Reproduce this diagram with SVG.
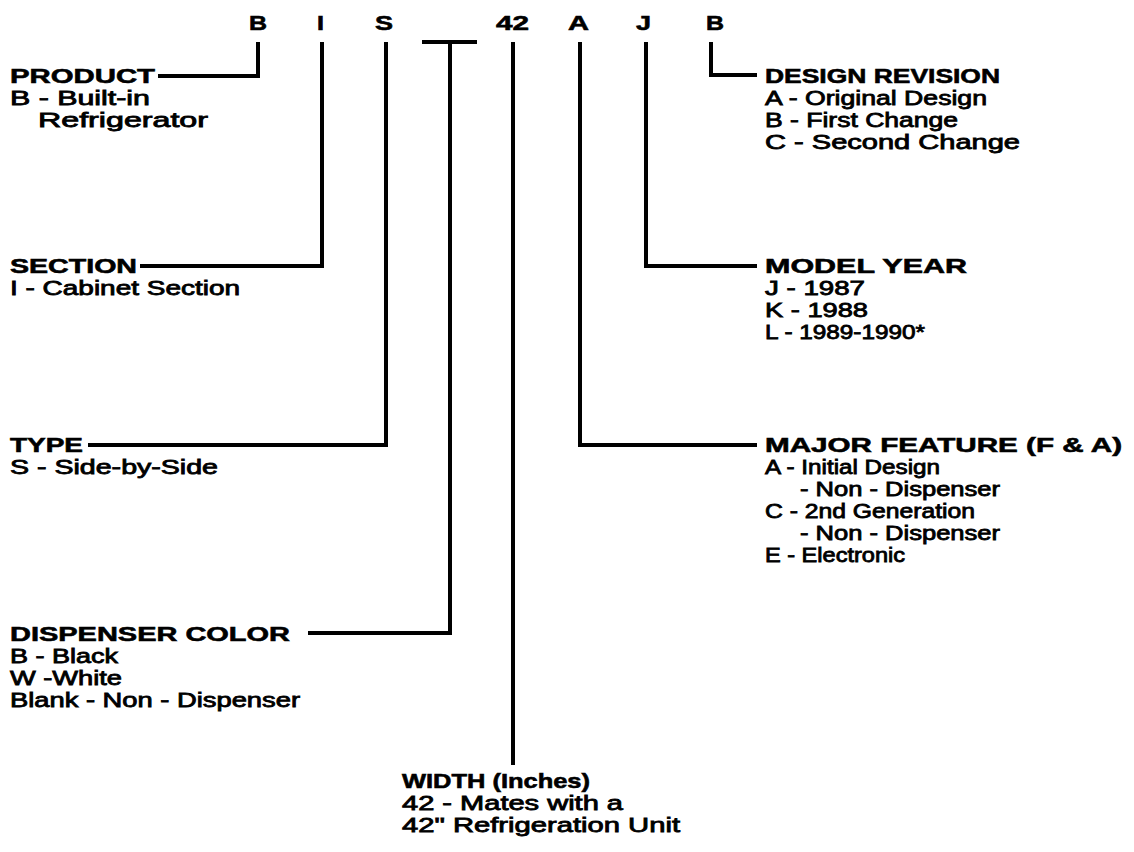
<svg xmlns="http://www.w3.org/2000/svg" width="1134" height="852" viewBox="0 0 1134 852">
<style>
.h{font-family:"Liberation Sans",Arial,sans-serif;font-weight:bold;font-size:21px;fill:#000;stroke:#000;stroke-width:0.6}
.b{font-family:"Liberation Sans",Arial,sans-serif;font-size:20px;fill:#000;stroke:#000;stroke-width:0.8}
.k{font-family:"Liberation Sans",Arial,sans-serif;font-weight:bold;font-size:21px;fill:#000;stroke:#000;stroke-width:0.6}
.c{fill:none;stroke:#000;stroke-width:4;stroke-linejoin:miter;stroke-linecap:butt}
</style>
<rect width="1134" height="852" fill="#fff"/>
<g id="code">
<text class="k" x="249" y="30" textLength="18" lengthAdjust="spacingAndGlyphs">B</text>
<text class="k" x="317" y="30" textLength="7" lengthAdjust="spacingAndGlyphs">I</text>
<text class="k" x="375" y="30" textLength="18" lengthAdjust="spacingAndGlyphs">S</text>
<text class="k" x="496" y="30" textLength="33" lengthAdjust="spacingAndGlyphs">42</text>
<text class="k" x="568" y="30" textLength="21" lengthAdjust="spacingAndGlyphs">A</text>
<text class="k" x="636" y="30" textLength="15" lengthAdjust="spacingAndGlyphs">J</text>
<text class="k" x="706" y="30" textLength="18" lengthAdjust="spacingAndGlyphs">B</text>
</g>
<g id="connectors">
<path class="c" d="M258,42 V76 H158"/>
<path class="c" d="M322,42 V266 H140"/>
<path class="c" d="M386,42 V445 H88"/>
<path class="c" d="M422,42 H477 M450,42 V633 H308"/>
<path class="c" d="M513,42 V765"/>
<path class="c" d="M580,42 V445 H757"/>
<path class="c" d="M646,42 V266 H757"/>
<path class="c" d="M711,42 V75 H757"/>
</g>
<g id="product">
<text class="h" x="10" y="83" textLength="145" lengthAdjust="spacingAndGlyphs">PRODUCT</text>
<text class="b" x="10" y="105" textLength="140" lengthAdjust="spacingAndGlyphs">B - Built-in</text>
<text class="b" x="38" y="127" textLength="170" lengthAdjust="spacingAndGlyphs">Refrigerator</text>
</g>
<g id="section">
<text class="h" x="10" y="273" textLength="127" lengthAdjust="spacingAndGlyphs">SECTION</text>
<text class="b" x="10" y="295" textLength="230" lengthAdjust="spacingAndGlyphs">I -  Cabinet Section</text>
</g>
<g id="type">
<text class="h" x="10" y="452" textLength="73" lengthAdjust="spacingAndGlyphs">TYPE</text>
<text class="b" x="10" y="474" textLength="208" lengthAdjust="spacingAndGlyphs">S - Side-by-Side</text>
</g>
<g id="dispenser">
<text class="h" x="10" y="641" textLength="280" lengthAdjust="spacingAndGlyphs">DISPENSER COLOR</text>
<text class="b" x="10" y="663" textLength="108" lengthAdjust="spacingAndGlyphs">B - Black</text>
<text class="b" x="10" y="685" textLength="112" lengthAdjust="spacingAndGlyphs">W -White</text>
<text class="b" x="10" y="707" textLength="290" lengthAdjust="spacingAndGlyphs">Blank - Non - Dispenser</text>
</g>
<g id="width">
<text class="h" x="402" y="788" textLength="188" lengthAdjust="spacingAndGlyphs">WIDTH (Inches)</text>
<text class="b" x="402" y="810" textLength="221" lengthAdjust="spacingAndGlyphs">42 - Mates with a</text>
<text class="b" x="402" y="832" textLength="278" lengthAdjust="spacingAndGlyphs">42" Refrigeration Unit</text>
</g>
<g id="revision">
<text class="h" x="765" y="83" textLength="235" lengthAdjust="spacingAndGlyphs">DESIGN REVISION</text>
<text class="b" x="765" y="105" textLength="222" lengthAdjust="spacingAndGlyphs">A - Original Design</text>
<text class="b" x="765" y="127" textLength="193" lengthAdjust="spacingAndGlyphs">B - First Change</text>
<text class="b" x="765" y="149" textLength="255" lengthAdjust="spacingAndGlyphs">C - Second Change</text>
</g>
<g id="year">
<text class="h" x="765" y="273" textLength="202" lengthAdjust="spacingAndGlyphs">MODEL YEAR</text>
<text class="b" x="765" y="295" textLength="100" lengthAdjust="spacingAndGlyphs">J - 1987</text>
<text class="b" x="765" y="317" textLength="103" lengthAdjust="spacingAndGlyphs">K - 1988</text>
<text class="b" x="765" y="339" textLength="160" lengthAdjust="spacingAndGlyphs">L - 1989-1990*</text>
</g>
<g id="feature">
<text class="h" x="765" y="452" textLength="357" lengthAdjust="spacingAndGlyphs">MAJOR FEATURE (F &amp; A)</text>
<text class="b" x="765" y="474" textLength="175" lengthAdjust="spacingAndGlyphs">A - Initial Design</text>
<text class="b" x="800" y="496" textLength="200" lengthAdjust="spacingAndGlyphs">- Non - Dispenser</text>
<text class="b" x="765" y="518" textLength="210" lengthAdjust="spacingAndGlyphs">C - 2nd Generation</text>
<text class="b" x="800" y="540" textLength="200" lengthAdjust="spacingAndGlyphs">- Non - Dispenser</text>
<text class="b" x="765" y="562" textLength="140" lengthAdjust="spacingAndGlyphs">E - Electronic</text>
</g>
</svg>
